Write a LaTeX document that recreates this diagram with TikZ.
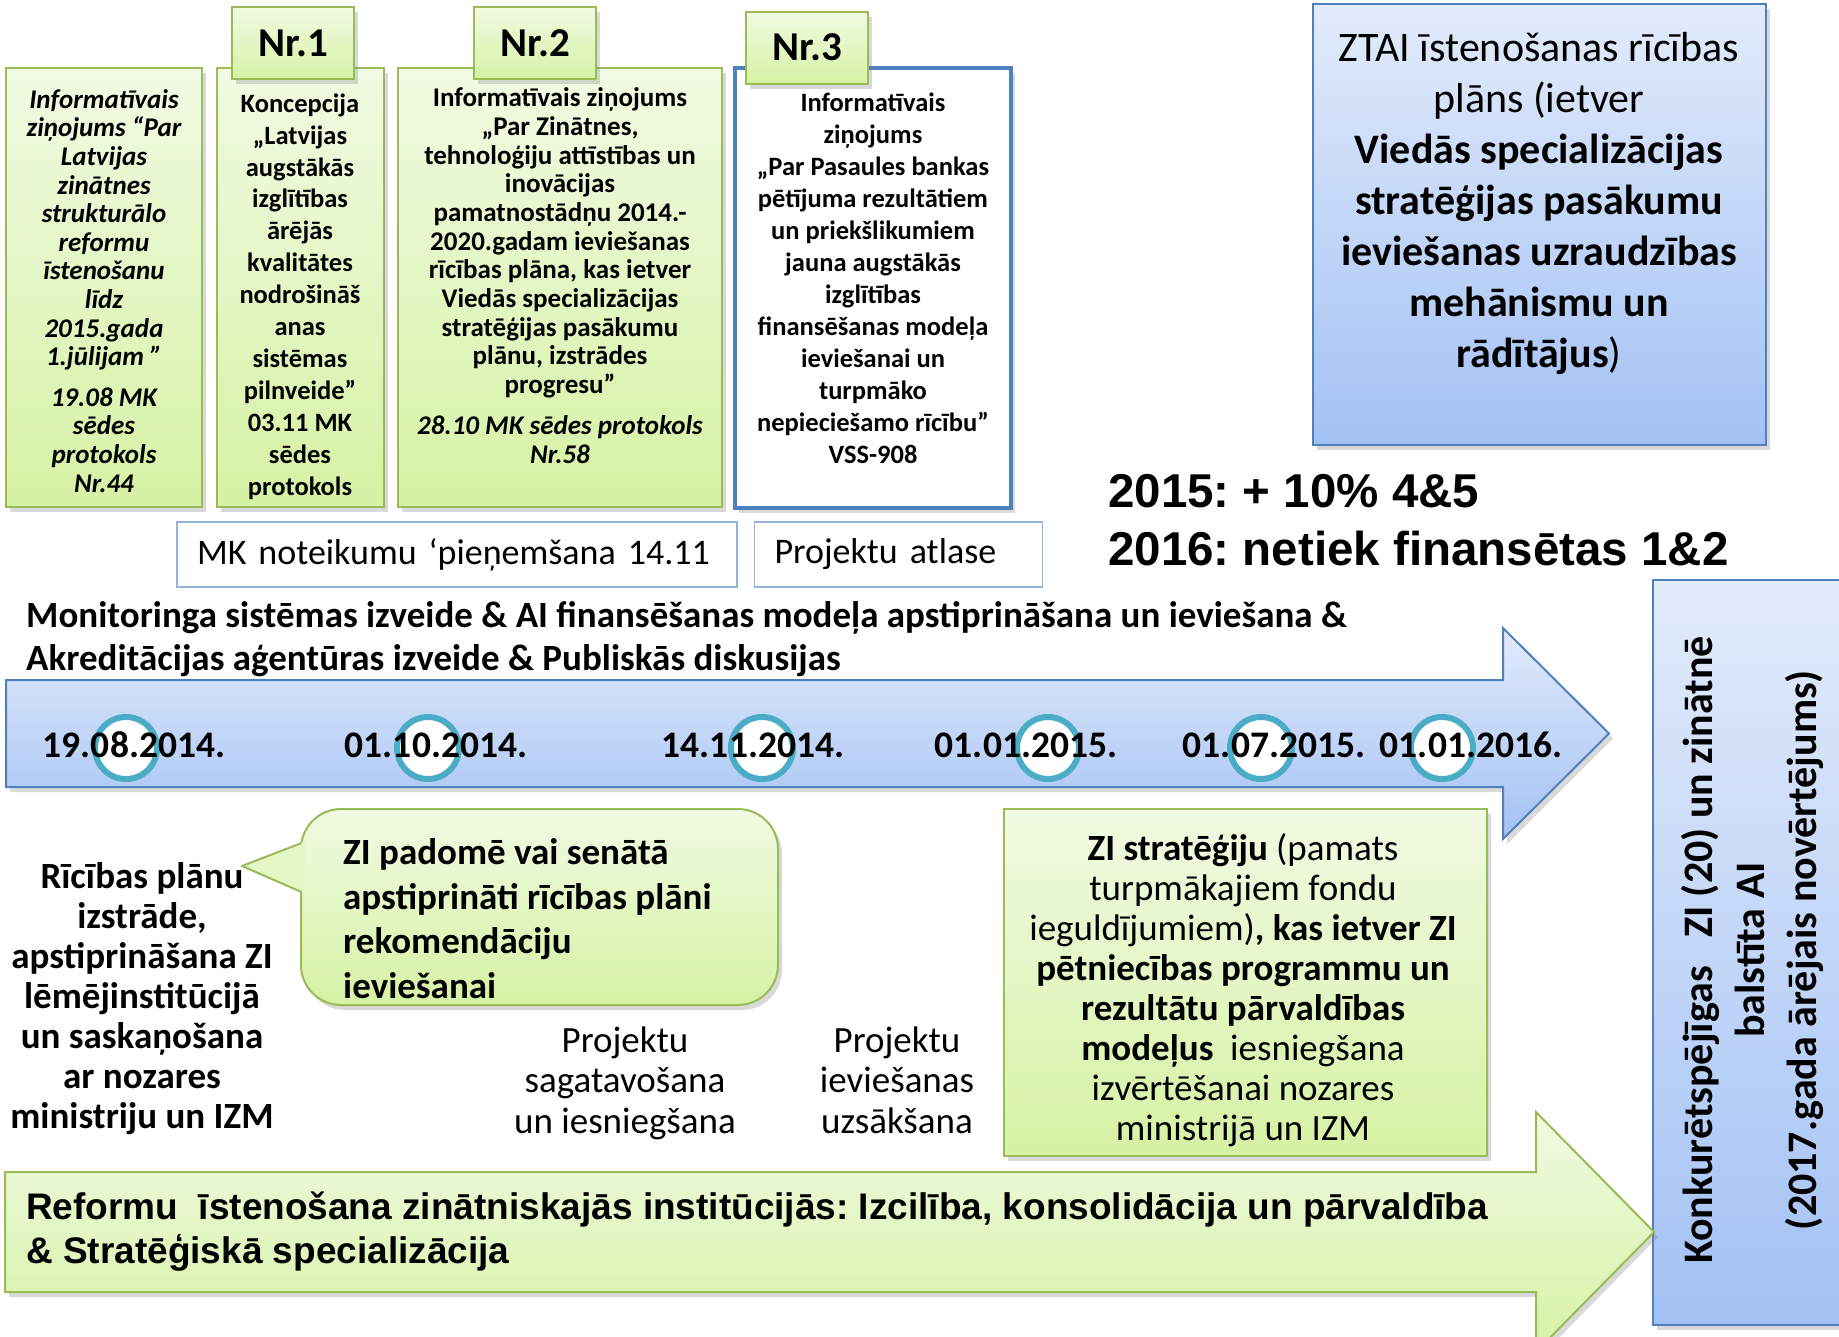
\documentclass[tikz,border=0pt]{standalone}
\usepackage{fontspec}
\setmainfont{Carlito}
\newfontfamily\arialfont{Liberation Sans}
\usetikzlibrary{shadows,positioning}
\newcommand{\sz}[2]{\fontsize{#1}{#2}\selectfont}
\definecolor{leafline}{HTML}{9BBB59}
\definecolor{leaftop}{HTML}{F1FAE3}
\definecolor{leafbot}{HTML}{D6F2A4}
\definecolor{skyline}{HTML}{4F81BD}
\definecolor{skytop}{HTML}{E2EBFB}
\definecolor{skybot}{HTML}{A3C1F4}
\definecolor{ringteal}{HTML}{4BACC6}
\definecolor{thinblue}{HTML}{95B3D7}
\tikzstyle{soft} = [drop shadow={shadow xshift=4pt, shadow yshift=-5pt, opacity=.3}]
\tikzstyle{leaf} = [draw=leafline, line width=2pt, top color=leaftop, bottom color=leafbot, soft]
\tikzstyle{sky} = [draw=skyline, line width=2pt, top color=skytop, bottom color=skybot, soft]
\tikzstyle{doc} = [leaf, rectangle, minimum height=439pt, inner sep=0pt]
\tikzstyle{tab} = [leaf, rectangle, minimum width=122pt, minimum height=72pt, font=\bfseries\sz{41}{44}]
\tikzstyle{txt} = [align=center, inner sep=0pt]
\tikzstyle{slot} = [rectangle, draw=thinblue, line width=1.5pt, fill=white, minimum height=65pt, inner xsep=20pt, align=left, font=\sz{36}{40}]
\tikzstyle{ring} = [circle, draw=ringteal, line width=6pt, fill=white, minimum size=62pt, inner sep=0pt]
\tikzstyle{date} = [anchor=base, inner sep=0pt, font=\bfseries\sz{37.5}{42}]

\begin{document}
\frenchspacing
\begin{tikzpicture}[x=1pt, y=-1pt]
\useasboundingbox (0,0) rectangle (1839,1336);
\clip (0,0) rectangle (1839,1336);

% documents on top
\node[doc, minimum width=196pt] (infozin) at (104,287.5) {};
\node[doc, minimum width=167pt] (koncep) at (300.5,287.5) {};
\node[doc, minimum width=324pt] (infotech) at (560,287.5) {};
\node[rectangle, draw=skyline, line width=4pt, fill=white, minimum width=276pt, minimum height=440pt, soft] (infobank) at (873,288) {};
\node[tab] (nr1) at (293,43) {Nr.1};
\node[tab] (nr2) at (535,43) {Nr.2};
\node[tab] (nr3) at (807,47.5) {Nr.3};

% anchor=base is the last line of each text
\node[txt, anchor=base, font=\bfseries\itshape\sz{27}{28.6}] (infozintxt) at (104,492) {Informatīvais\\ ziņojums “Par\\ Latvijas\\ zinātnes\\ strukturālo\\ reformu\\ īstenošanu\\ līdz\\ 2015.gada\\ 1.jūlijam ”\\[12pt] 19.08 MK\\ sēdes\\ protokols\\ Nr.44};
\node[txt, anchor=base, font=\bfseries\sz{26.5}{31.9}] (konceptxt) at (300,495) {Koncepcija\\ „Latvijas\\ augstākās\\ izglītības\\ ārējās\\ kvalitātes\\ nodrošināš\\ anas\\ sistēmas\\ pilnveide”\\ 03.11 MK\\ sēdes\\ protokols};
\node[txt, anchor=base, font=\bfseries\sz{27}{28.7}] (infotechtxt) at (560,463) {Informatīvais ziņojums\\ „Par Zinātnes,\\ tehnoloģiju attīstības un\\ inovācijas\\ pamatnostādņu 2014.-\\ 2020.gadam ieviešanas\\ rīcības plāna, kas ietver\\ Viedās specializācijas\\ stratēģijas pasākumu\\ plānu, izstrādes\\ progresu”\\[12pt] {\itshape 28.10 MK sēdes protokols}\\ {\itshape Nr.58}};
\node[txt, anchor=base, font=\bfseries\sz{26.5}{32}] (infobanktxt) at (873,463) {Informatīvais\\ ziņojums\\ „Par Pasaules bankas\\ pētījuma rezultātiem\\ un priekšlikumiem\\ jauna augstākās\\ izglītības\\ finansēšanas modeļa\\ ieviešanai un\\ turpmāko\\ nepieciešamo rīcību”\\ VSS-908};

% action plan box
\node[sky, rectangle, minimum width=453pt, minimum height=441pt] (ztai) at (1539.5,224.5) {};
\node[txt, anchor=base, font=\sz{42}{51}] (ztaitxt) at (1539,367) {ZTAI īstenošanas rīcības\\ plāns (ietver\\ \textbf{Viedās specializācijas}\\ \textbf{stratēģijas pasākumu}\\ \textbf{ieviešanas uzraudzības}\\ \textbf{mehānismu un}\\ \textbf{rādītājus})};

\node[slot, minimum width=560pt, text width=520pt] (mkrule) at (457,554.5) {MK noteikumu ‘pieņemšana 14.11};
\node[slot, minimum width=288pt, text width=248pt, right=16pt of mkrule] (atlase) {Projektu atlase};

\node[anchor=base west, inner sep=0pt, align=left, font=\arialfont\bfseries\sz{47.5}{58}] (funding) at (1108,565) {2015: + 10\% 4\&5\\ 2016: netiek finansētas 1\&2};

\node[anchor=base west, inner sep=0pt, align=left, font=\bfseries\sz{37}{43}] (monitor) at (26,670) {Monitoringa sistēmas izveide \& AI finansēšanas modeļa apstiprināšana un ieviešana \&\\ Akreditācijas aģentūras izveide \& Publiskās diskusijas};

% timeline
\path[sky] (6,680) -- (1503,680) -- (1503,628) -- (1609,733.5) -- (1503,839) -- (1503,787) -- (6,787) -- cycle;
\foreach \x/\n in {126/r1, 428/r2, 762/r3, 1048/r4, 1261/r5, 1442/r6}
  \node[ring] (\n) at (\x,748) {};
\node[date] (d1) at (134,757) {19.08.2014.};
\node[date] (d2) at (436,757) {01.10.2014.};
\node[date] (d3) at (753,757) {14.11.2014.};
\node[date] (d4) at (1026,757) {01.01.2015.};
\node[date] (d5) at (1274,757) {01.07.2015.};
\node[date] (d6) at (1471,757) {01.01.2016.};

% final result
\node[sky, rectangle, minimum width=207pt, minimum height=745pt] (konk) at (1756.5,952.5) {};
\node[txt, rotate=90, font=\bfseries\sz{42}{52}] (konktxt) at (1752,950) {Konkurētspējīgas\ \ \ ZI (20) un zinātnē\\ balstīta AI\\ (2017.gada ārējais novērtējums)};

% reform arrow
\path[leaf] (5,1172) -- (1536,1172) -- (1536,1112) -- (1654,1232) -- (1536,1352) -- (1536,1292) -- (5,1292) -- cycle;
\node[anchor=base west, inner sep=0pt, align=left, font=\arialfont\bfseries\sz{37}{44}] (reform) at (26,1263) {Reformu\ \ īstenošana zinātniskajās institūcijās: Izcilība, konsolidācija un pārvaldība\\ \& Stratēģiskā specializācija};

% lower row
\node[txt, anchor=base, font=\bfseries\sz{37}{40}] (plani) at (142,1128) {Rīcības plānu\\ izstrāde,\\ apstiprināšana ZI\\ lēmējinstitūcijā\\ un saskaņošana\\ ar nozares\\ ministriju un IZM};
\node[leaf, rectangle, rounded corners=40pt, minimum width=477pt, minimum height=196pt] (padome) at (539.5,907) {};
\fill[leaftop!55!leafbot] (305,841) -- (242,866) -- (305,893) -- cycle;
\draw[leafline, line width=2pt, line join=round] (301.5,843) -- (242,866) -- (301.5,892);
\node[anchor=base west, inner sep=0pt, align=left, font=\bfseries\sz{37}{44.5}] (padometxt) at (343,998) {ZI padomē vai senātā\\ apstiprināti rīcības plāni\\ rekomendāciju\\ ieviešanai};
\node[txt, anchor=base, font=\sz{37}{40.5}] (sagat) at (625,1133) {Projektu\\ sagatavošana\\ un iesniegšana};
\node[txt, anchor=base, font=\sz{37}{40.5}] (uzsak) at (897,1133) {Projektu\\ ieviešanas\\ uzsākšana};
\node[leaf, rectangle, minimum width=483pt, minimum height=347pt] (strat) at (1245.5,982.5) {};
\node[txt, anchor=base, font=\sz{37}{40}] (strattxt) at (1243,1140) {\textbf{ZI stratēģiju} (pamats\\ turpmākajiem fondu\\ ieguldījumiem)\textbf{, kas ietver ZI}\\ \textbf{pētniecības programmu un}\\ \textbf{rezultātu pārvaldības}\\ \textbf{modeļus}\ \ iesniegšana\\ izvērtēšanai nozares\\ ministrijā un IZM};
\end{tikzpicture}
\end{document}
